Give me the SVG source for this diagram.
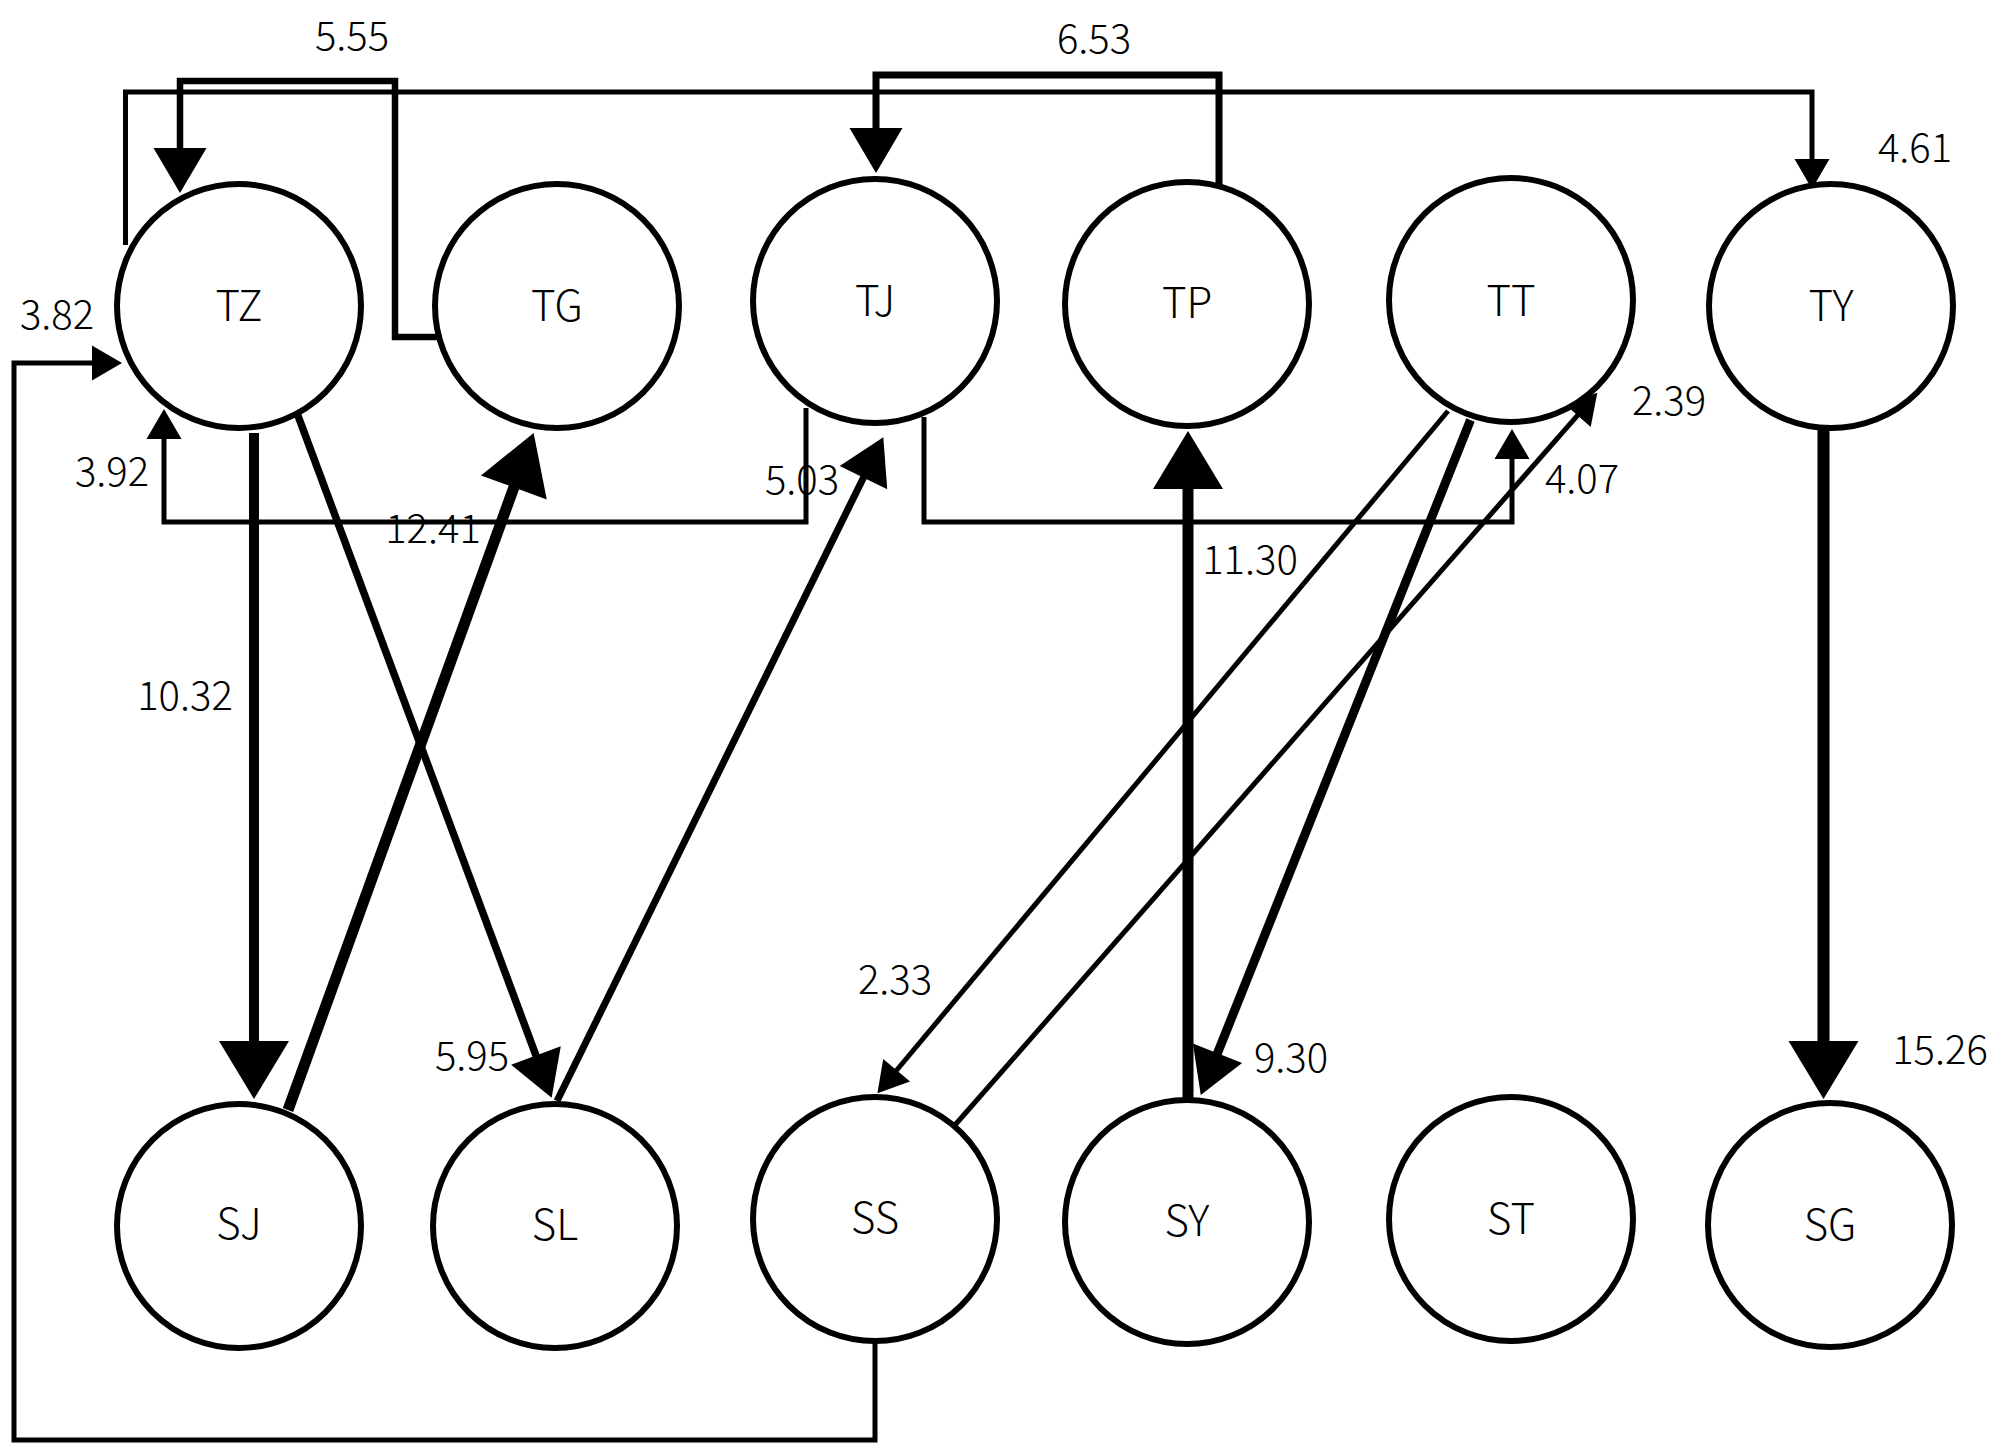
<svg xmlns="http://www.w3.org/2000/svg" width="2000" height="1454" viewBox="0 0 2000 1454">
<style>
.node circle{fill:#fff;stroke:#000;stroke-width:6}
.node text{font-family:"Noto Sans CJK SC","Noto Sans",sans-serif;font-weight:300;font-size:42px;text-anchor:middle;fill:#000}
.edge{fill:none;stroke:#000;stroke-linejoin:miter;stroke-linecap:butt}
.lbl{font-family:"Noto Sans CJK SC","Noto Sans",sans-serif;font-weight:300;font-size:40px;text-anchor:middle;fill:#000}
.sm{marker-end:url(#aS)}
.md{marker-end:url(#aM)}
.lg{marker-end:url(#aL)}
</style>
<defs>
<marker id="aS" markerUnits="userSpaceOnUse" markerWidth="40" markerHeight="40" viewBox="0 -20 32 40" refX="1" refY="0" orient="auto" overflow="visible"><path d="M0,-17.5 L30,0 L0,17.5 z" fill="#000"/></marker>
<marker id="aM" markerUnits="userSpaceOnUse" markerWidth="60" markerHeight="60" viewBox="0 -30 47 60" refX="1" refY="0" orient="auto" overflow="visible"><path d="M0,-26.5 L45,0 L0,26.5 z" fill="#000"/></marker>
<marker id="aL" markerUnits="userSpaceOnUse" markerWidth="80" markerHeight="80" viewBox="0 -40 60 80" refX="1" refY="0" orient="auto" overflow="visible"><path d="M0,-35 L58,0 L0,35 z" fill="#000"/></marker>
</defs>
<rect width="2000" height="1454" fill="#fff"/>
<g id="connectors">
<path class="edge md" stroke-width="6.5" d="M439,337 H395 V81 H180 V149"/>
<path class="edge md" stroke-width="7" d="M1219,186 V75 H876 V129"/>
<path class="edge sm" stroke-width="5" d="M125.5,245 V92 H1812 V160"/>
<path class="edge sm" stroke-width="5" d="M875,1343 V1440 H14 V363 H93"/>
<path class="edge sm" stroke-width="5" d="M806,408 V522 H164 V438"/>
<path class="edge sm" stroke-width="5" d="M924,417 V522 H1512 V458"/>
<path class="edge lg" stroke-width="10" d="M254,433 V1042"/>
<path class="edge lg" stroke-width="11" d="M288,1110 L514.2,486.5"/>
<path class="edge md" stroke-width="7.5" d="M297,413 L536.3,1056.4"/>
<path class="edge md" stroke-width="7" d="M557,1101 L863.9,476.7"/>
<path class="edge lg" stroke-width="11" d="M1188,1100 V488"/>
<path class="edge md" stroke-width="9" d="M1470.5,420 L1217.1,1054.2"/>
<path class="edge sm" stroke-width="5" d="M1448,411 L896,1071"/>
<path class="edge sm" stroke-width="5" d="M955,1125 L1578.2,414.6"/>
<path class="edge lg" stroke-width="12" d="M1823.5,428 V1042"/>
</g>
<g id="edge-labels">
<text class="lbl" x="352" y="50">5.55</text>
<text class="lbl" x="1094" y="53">6.53</text>
<text class="lbl" x="1915" y="162">4.61</text>
<text class="lbl" x="57" y="329">3.82</text>
<text class="lbl" x="112" y="486">3.92</text>
<text class="lbl" x="433" y="543">12.41</text>
<text class="lbl" x="802" y="494">5.03</text>
<text class="lbl" x="1582" y="493">4.07</text>
<text class="lbl" x="1669" y="415">2.39</text>
<text class="lbl" x="1250" y="574">11.30</text>
<text class="lbl" x="185" y="710">10.32</text>
<text class="lbl" x="895" y="994">2.33</text>
<text class="lbl" x="472" y="1070">5.95</text>
<text class="lbl" x="1291" y="1072">9.30</text>
<text class="lbl" x="1940" y="1064">15.26</text>
</g>
<g id="TZ" class="node"><circle cx="239" cy="306" r="122"/><text x="239" y="321">TZ</text></g>
<g id="TG" class="node"><circle cx="557" cy="306" r="122"/><text x="557" y="321">TG</text></g>
<g id="TJ" class="node"><circle cx="875" cy="301" r="122"/><text x="875" y="316">TJ</text></g>
<g id="TP" class="node"><circle cx="1187" cy="304" r="122"/><text x="1187" y="318">TP</text></g>
<g id="TT" class="node"><circle cx="1511" cy="300" r="122"/><text x="1511" y="316">TT</text></g>
<g id="TY" class="node"><circle cx="1831" cy="306" r="122"/><text x="1831" y="321">TY</text></g>
<g id="SJ" class="node"><circle cx="239" cy="1226" r="122"/><text x="239" y="1239">SJ</text></g>
<g id="SL" class="node"><circle cx="555" cy="1226" r="122"/><text x="555" y="1240">SL</text></g>
<g id="SS" class="node"><circle cx="875" cy="1219" r="122"/><text x="875" y="1233">SS</text></g>
<g id="SY" class="node"><circle cx="1187" cy="1222" r="122"/><text x="1187" y="1236">SY</text></g>
<g id="ST" class="node"><circle cx="1511" cy="1219" r="122"/><text x="1511" y="1234">ST</text></g>
<g id="SG" class="node"><circle cx="1830" cy="1225" r="122"/><text x="1830" y="1240">SG</text></g>
</svg>
